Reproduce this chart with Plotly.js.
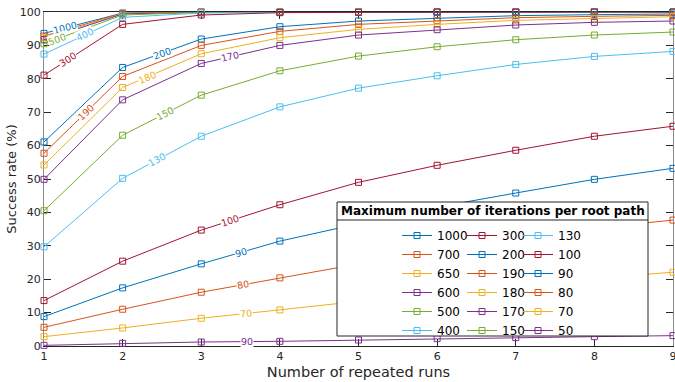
<!DOCTYPE html>
<html>
<head>
<meta charset="utf-8">
<script src="https://cdn.plot.ly/plotly-3.0.1.min.js"></script>
<style>html,body{margin:0;padding:0;background:#fff;}#chart{width:675px;height:382px;}</style>
</head>
<body>
<div id="chart"></div>
<script>
// ---------- data ----------
const runs = [1, 2, 3, 4, 5, 6, 7, 8, 9];
const seriesNames = ['1000','700','650','600','500','400','300','200','190','180','170','150','130','100','90','80','70','50'];
const s1000 = [93.6, 99.7, 100, 100, 100, 100, 100, 100, 100];
const s700  = [92.8, 99.6, 100, 100, 100, 100, 100, 100, 100];
const s650  = [92.3, 99.5, 99.9, 100, 100, 100, 100, 100, 100];
const s600  = [91.7, 99.4, 99.9, 100, 100, 100, 100, 100, 100];
const s500  = [90.5, 99.1, 99.9, 100, 100, 100, 100, 100, 100];
const s400  = [87.4, 98.4, 99.7, 99.9, 100, 100, 100, 100, 100];
const s300  = [81.1, 96.3, 99.1, 99.8, 99.9, 100, 100, 100, 100];
const s200  = [61.1, 83.4, 91.9, 95.6, 97.3, 98.2, 98.9, 99.2, 99.4];
const s190  = [57.7, 80.7, 90.0, 94.2, 96.3, 97.4, 98.3, 98.7, 99.0];
const s180  = [54.2, 77.4, 87.5, 92.3, 94.8, 96.3, 97.5, 98.1, 98.6];
const s170  = [49.9, 73.7, 84.6, 90.0, 93.1, 94.7, 96.1, 96.9, 97.3];
const s150  = [40.5, 63.1, 75.1, 82.4, 86.8, 89.6, 91.7, 93.1, 94.0];
const s130  = [29.7, 50.2, 62.8, 71.6, 77.2, 80.9, 84.3, 86.7, 88.2];
const s100  = [13.6, 25.4, 34.7, 42.3, 49.0, 54.1, 58.6, 62.8, 65.8];
const s90   = [8.8, 17.4, 24.6, 31.4, 36.6, 41.6, 45.8, 49.9, 53.2];
const s80   = [5.6, 11.0, 16.1, 20.4, 24.6, 28.8, 32.3, 35.3, 37.7];
const s70   = [2.8, 5.4, 8.3, 10.8, 13.5, 15.9, 18.2, 20.3, 22.1];
const s50   = [0.2, 0.8, 1.2, 1.4, 1.8, 2.2, 2.5, 2.8, 3.1];
const seriesValues = [s1000,s700,s650,s600,s500,s400,s300,s200,s190,s180,s170,s150,s130,s100,s90,s80,s70,s50];
const yTicks = [0,10,20,30,40,50,60,70,80,90,100];
// inline line labels: [series index, text, segment start run, fraction along segment]
const lineLabels = [
  [0,'1000',1,0.27],[4,'500',1,0.16],[5,'400',1,0.52],[6,'300',1,0.30],
  [7,'200',2,0.50],[8,'190',1,0.53],[9,'180',2,0.31],[10,'170',3,0.36],
  [11,'150',2,0.54],[12,'130',2,0.44],[13,'100',3,0.37],[14,'90',3,0.50],
  [15,'80',3,0.53],[16,'70',3,0.57],[17,'90',3,0.58]
];

// ---------- style ----------
const palette = ['#0072BD','#D95319','#EDB120','#7E2F8E','#77AC30','#4DBEEE','#A2142F'];
const FONT = 'DejaVu Sans, sans-serif';
const W = 675, H = 382;
const M = {l:44, r:2, t:12, b:36};
const plotW = W - M.l - M.r, plotH = H - M.t - M.b;
const legendNames = ['legend','legend2','legend3'];

const traces = seriesValues.map((vals, i) => ({
  type: 'scatter', mode: 'lines+markers', cliponaxis: false,
  x: runs, y: vals, name: seriesNames[i],
  legend: legendNames[Math.floor(i / 6)],
  line: {color: palette[i % 7], width: 1},
  marker: {symbol: 'square-open', size: 6, color: palette[i % 7], line: {width: 1, color: palette[i % 7]}}
}));

const xr = [1, 9], yr = [0, 100];
const annotations = lineLabels.map(([si, txt, seg, f]) => {
  const v = seriesValues[si];
  const y0 = v[seg - 1], y1 = v[seg];
  const dxPx = plotW / (xr[1] - xr[0]);
  const dyPx = -(y1 - y0) * plotH / (yr[1] - yr[0]);
  const ang = Math.atan2(dyPx, dxPx) * 180 / Math.PI;
  return {
    xref: 'x', yref: 'y', x: seg + f, y: y0 + f * (y1 - y0),
    text: txt, showarrow: false, textangle: ang,
    bgcolor: '#ffffff', borderpad: 0,
    font: {family: FONT, size: 9.5, color: palette[si % 7]}
  };
});

// legend box geometry (pixels -> paper)
const px2x = p => (p - M.l) / plotW;
const px2y = p => (H - M.b - p) / plotH;
const boxL = 337, boxR = 648, boxT = 202, boxB = 336, titleLine = 220;
annotations.push({
  xref: 'paper', yref: 'paper', x: px2x((boxL + boxR) / 2), y: px2y((boxT + titleLine) / 2),
  xanchor: 'center', yanchor: 'middle', showarrow: false,
  text: '<b>Maximum number of iterations per root path</b>',
  font: {family: FONT, size: 12, color: '#000'}
});

const shapes = [
  {type: 'rect', xref: 'paper', yref: 'paper', x0: px2x(boxL), x1: px2x(boxR), y0: px2y(boxB), y1: px2y(boxT),
   fillcolor: '#ffffff', line: {color: '#262626', width: 1}, layer: 'above'},
  {type: 'line', xref: 'paper', yref: 'paper', x0: px2x(boxL), x1: px2x(boxR), y0: px2y(titleLine), y1: px2y(titleLine),
   line: {color: '#262626', width: 1}, layer: 'above'}
];

const legendCommon = {
  bgcolor: 'rgba(0,0,0,0)', borderwidth: 0, orientation: 'v',
  font: {family: FONT, size: 12, color: '#000'}, itemwidth: 30, tracegroupgap: 0,
  xanchor: 'left', yanchor: 'top', y: px2y(titleLine + 1), itemclick: false
};

const layout = {
  width: W, height: H, margin: M,
  paper_bgcolor: '#fff', plot_bgcolor: '#fff',
  font: {family: FONT, size: 11, color: '#262626'},
  showlegend: true,
  legend: Object.assign({}, legendCommon, {x: px2x(397)}),
  legend2: Object.assign({}, legendCommon, {x: px2x(462)}),
  legend3: Object.assign({}, legendCommon, {x: px2x(518)}),
  xaxis: {
    range: xr, tickmode: 'array', tickvals: runs, ticktext: runs.map(String),
    ticks: 'inside', ticklen: 7, tickcolor: '#262626', showline: true, linecolor: '#262626', linewidth: 1,
    mirror: 'ticks', showgrid: false, zeroline: false, layer: 'below traces', ticklabeloverflow: 'allow',
    tickfont: {family: FONT, size: 11, color: '#262626'},
    title: {text: 'Number of repeated runs', font: {family: FONT, size: 14.5, color: '#262626'}, standoff: 4}
  },
  yaxis: {
    range: yr, tickmode: 'array', tickvals: yTicks, ticktext: yTicks.map(String),
    ticks: 'inside', ticklen: 7, tickcolor: '#262626', showline: true, linecolor: '#8c8c8c', linewidth: 1,
    mirror: 'ticks', showgrid: false, zeroline: false, layer: 'below traces', ticklabeloverflow: 'allow',
    tickfont: {family: FONT, size: 11, color: '#262626'},
    title: {text: 'Success rate (%)', font: {family: FONT, size: 13, color: '#262626'}, standoff: 0}
  },
  annotations: annotations,
  shapes: shapes
};

Plotly.newPlot('chart', traces, layout, {staticPlot: true, displayModeBar: false});
</script>
</body>
</html>
